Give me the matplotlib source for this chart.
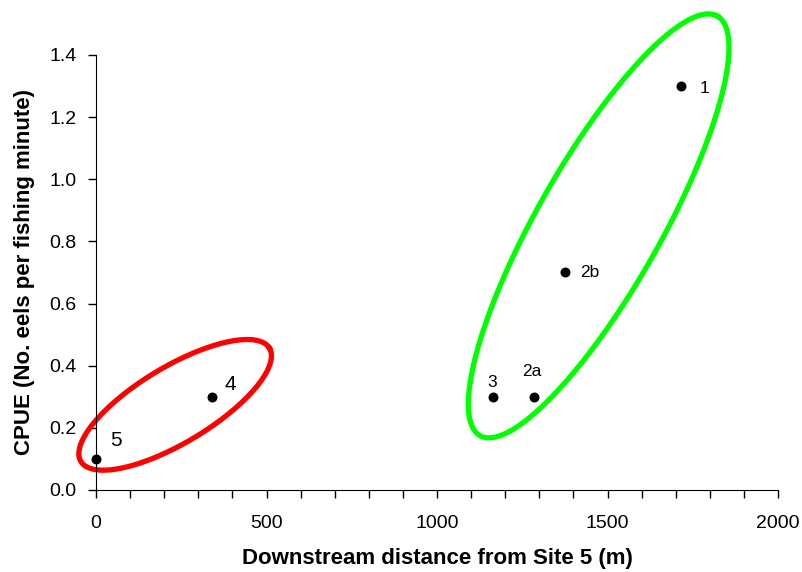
import numpy as np
import matplotlib.pyplot as plt
from matplotlib.ticker import MultipleLocator

plt.rcParams['font.family'] = ['Liberation Sans', 'DejaVu Sans']

# site data
sites = ['5', '4', '3', '2a', '2b', '1']
distance = [0, 340, 1165, 1285, 1375, 1715]
cpue = [0.1, 0.3, 0.3, 0.3, 0.7, 1.3]

# label offsets in points and sizes
lab_off = {'5': (14, 13), '4': (13, 9), '3': (-1, 10), '2a': (-2, 18),
           '2b': (18, 0), '1': (17, -2)}
lab_size = {'5': 15, '4': 15, '3': 12.5, '2a': 12.5, '2b': 12.5, '1': 12.5}

fig = plt.figure(figsize=(8.03, 5.72), dpi=100)
ax = fig.add_axes([0.1196, 0.1434, 0.8493, 0.7605])

ax.set_xlim(0, 2000)
ax.set_ylim(0, 1.4)

ax.scatter(distance, cpue, s=38, color='black', zorder=3, clip_on=False)
for s, x, y in zip(sites, distance, cpue):
    ax.annotate(s, (x, y), xytext=lab_off[s], textcoords='offset points',
                ha='center', va='center', fontsize=lab_size[s])


def ellipse(cx, cy, a, b, ang, color):
    # a, b in pixels, angle in degrees on screen
    t = np.linspace(0, 2 * np.pi, 300)
    th = np.radians(ang)
    px = a * np.cos(t) * np.cos(th) - b * np.sin(t) * np.sin(th)
    py = a * np.cos(t) * np.sin(th) + b * np.sin(t) * np.cos(th)
    c = ax.transData.transform((cx, cy))
    pts = ax.transData.inverted().transform(np.column_stack([c[0] + px, c[1] + py]))
    ax.plot(pts[:, 0], pts[:, 1], color=color, lw=3.8, clip_on=False)


fig.canvas.draw()
ellipse(232, 0.274, 110, 38, 31, '#ff0000')
ellipse(1474, 0.850, 241, 62, 60.5, '#00ff00')

ax.xaxis.set_major_locator(MultipleLocator(500))
ax.xaxis.set_minor_locator(MultipleLocator(100))
ax.yaxis.set_major_locator(MultipleLocator(0.2))
ax.yaxis.set_major_formatter(plt.FormatStrFormatter('%.1f'))
ax.tick_params(which='major', length=6, width=1, labelsize=14, direction='out', pad=8)
ax.tick_params(which='minor', length=6, width=1, direction='out')
ax.tick_params(axis='x', pad=12)
for sp in ['top', 'right']:
    ax.spines[sp].set_visible(False)

ax.set_xlabel('Downstream distance from Site 5 (m)', fontsize=16, fontweight='bold')
ax.set_ylabel('CPUE (No. eels per fishing minute)', fontsize=16, fontweight='bold')
ax.xaxis.set_label_coords(0.5, -0.133)
ax.yaxis.set_label_coords(-0.089, 0.5)

fig.savefig('out.png', dpi=100)
